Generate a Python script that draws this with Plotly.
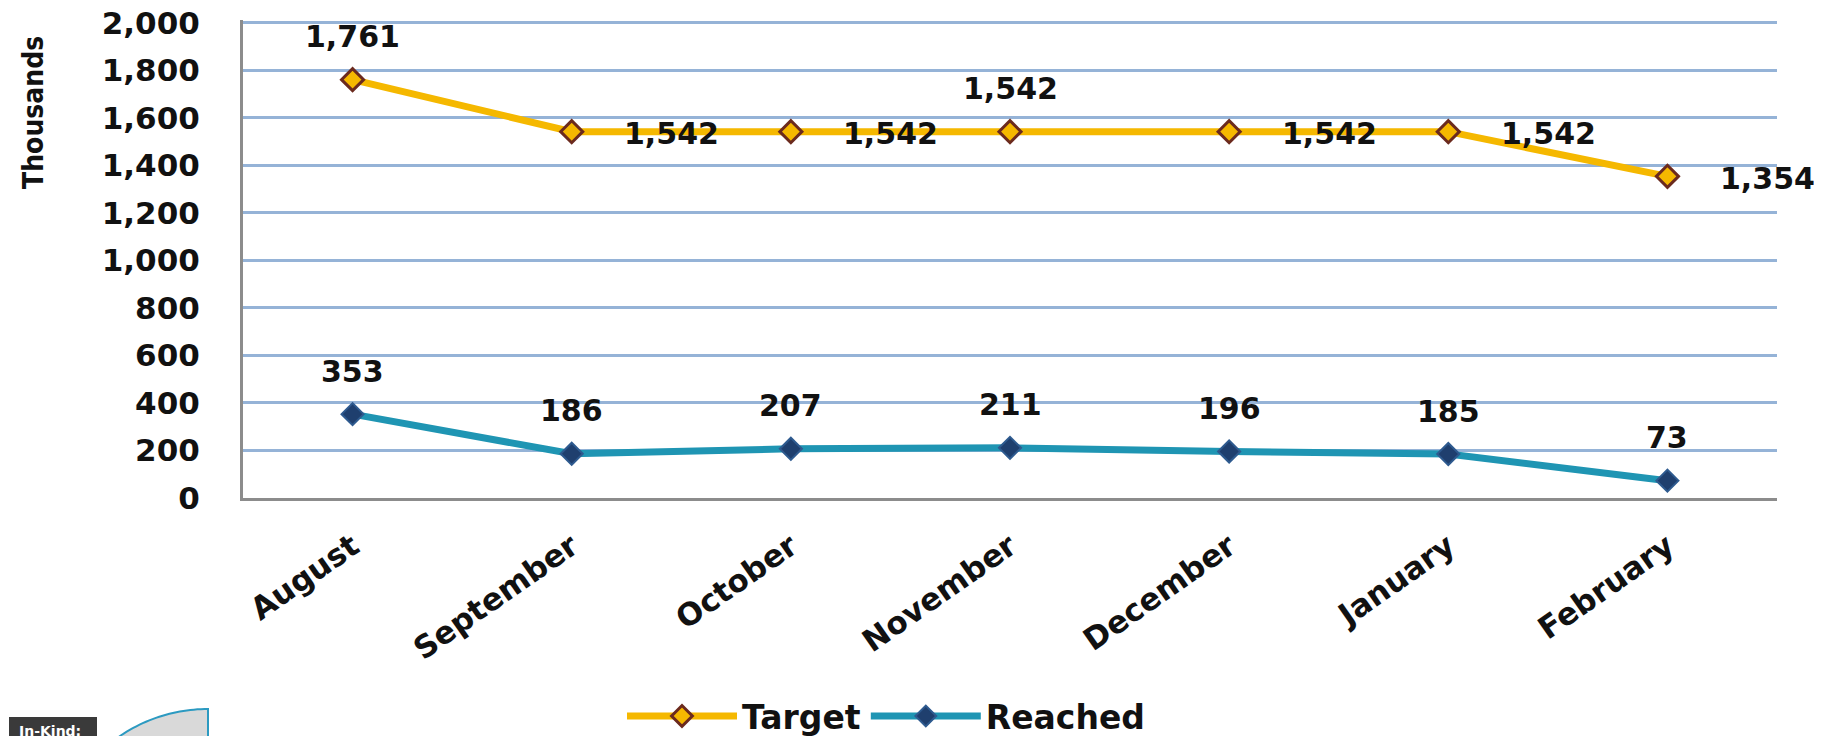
import numpy as np
import plotly.graph_objects as go

months = ["August", "September", "October", "November", "December", "January", "February"]
target = [1761, 1542, 1542, 1542, 1542, 1542, 1354]
reached = [353, 186, 207, 211, 196, 185, 73]
target_label_pos = ["above", "right", "right", "above", "right", "right", "right"]
y_ticks = [0, 200, 400, 600, 800, 1000, 1200, 1400, 1600, 1800, 2000]
y_max = 2012  # a hair above 2000 so the top gridline is drawn

W, H = 1822, 736
OFF = 8  # page body margin
PL, PR, PT, PB = 243, 1777, 20, 498  # plot area in screen pixels
L, T = PL - OFF, PT - OFF
R, B = W - (PR - OFF), H - (PB - OFF)
PW, PH = W - L - R, H - T - B

def px(x):
    return (x - OFF - L) / PW

def py(y):
    return (H - B - (y - OFF)) / PH

FONT = "DejaVu Sans"
YELLOW = "#F5B800"
TEAL = "#1F95B3"

fig = go.Figure()
fig.add_trace(go.Scatter(
    x=months, y=target, name="Target", mode="lines+markers",
    line=dict(color=YELLOW, width=7),
    marker=dict(symbol="diamond", size=17, color=YELLOW, line=dict(color="#6B2A1E", width=3)),
))
fig.add_trace(go.Scatter(
    x=months, y=reached, name="Reached", mode="lines+markers",
    line=dict(color=TEAL, width=7),
    marker=dict(symbol="diamond", size=17, color="#1F3F6E", line=dict(color="#2E5A8F", width=2)),
))

LBL = dict(family=FONT, size=30, color="#111", weight="bold")
annotations = []
for m, v, pos in zip(months, target, target_label_pos):
    if pos == "above":
        xs, ys = 0, 43
    else:
        xs, ys = 100, -2
    annotations.append(dict(x=m, y=v, text=f"{v:,}", showarrow=False, xshift=xs, yshift=ys,
                            font=LBL, xref="x", yref="y"))
for m, v in zip(months, reached):
    annotations.append(dict(x=m, y=v, text=f"{v:,}", showarrow=False, xshift=0, yshift=43,
                            font=LBL, xref="x", yref="y"))

# axis title
annotations.append(dict(x=px(33), y=py(113), xref="paper", yref="paper", text="<b>Thousands</b>",
                        showarrow=False, textangle=-90, xanchor="center", yanchor="middle",
                        font=dict(family="DejaVu Sans Condensed, DejaVu Sans", size=28,
                                  color="#111", weight="bold")))
# decorative slide fragment bottom-left
annotations.append(dict(x=px(17), y=py(721), xref="paper", yref="paper", text="In-Kind:",
                        showarrow=False, xanchor="left", yanchor="top",
                        font=dict(family=FONT, size=14, color="white", weight="bold")))

shapes = []
shapes.append(dict(type="rect", xref="paper", yref="paper", x0=px(9), x1=px(97), y0=py(745), y1=py(717),
                   fillcolor="#3A3A3A", line=dict(width=0), layer="above"))
cx, cy, r = 208, 866, 157
angs = np.linspace(np.pi / 2, np.pi * 0.78, 40)
pts = [(cx + r * np.cos(a), cy - r * np.sin(a)) for a in angs]
path = "M " + " L ".join(f"{px(x):.5f},{py(y):.5f}" for x, y in pts)
path += f" L {px(cx):.5f},{py(cy - r * np.sin(angs[-1])):.5f} Z"
shapes.append(dict(type="path", xref="paper", yref="paper", path=path,
                   fillcolor="#D9D9D9", line=dict(color="#2C9AC1", width=2), layer="above"))

fig.update_layout(
    width=W, height=H,
    margin=dict(l=L, r=R, t=T, b=B, autoexpand=False),
    paper_bgcolor="white", plot_bgcolor="white",
    font=dict(family=FONT, color="#111"),
    showlegend=True,
    legend=dict(orientation="h", x=px(886), y=py(716), xanchor="center", yanchor="middle",
                font=dict(family=FONT, size=33, color="#111", weight="bold"), itemwidth=110,
                bgcolor="rgba(0,0,0,0)"),
    annotations=annotations,
    shapes=shapes,
    xaxis=dict(
        type="category", range=[-0.5, 6.5], showgrid=False,
        showline=True, linecolor="#8C8C8C", linewidth=3,
        ticks="outside", ticklen=0, tickangle=-35, ticklabelstandoff=15,
        tickfont=dict(family=FONT, size=31, color="#111", weight="bold"),
    ),
    yaxis=dict(
        range=[0, y_max], tickvals=y_ticks, tickformat=",",
        showgrid=True, gridcolor="#95B3D7", gridwidth=2.5,
        showline=True, linecolor="#8C8C8C", linewidth=3,
        ticks="", ticklabelstandoff=34, zeroline=False, ticklabeloverflow="allow",
        tickfont=dict(family=FONT, size=31, color="#111", weight="bold"),
    ),
)

fig.write_html("out.html")
